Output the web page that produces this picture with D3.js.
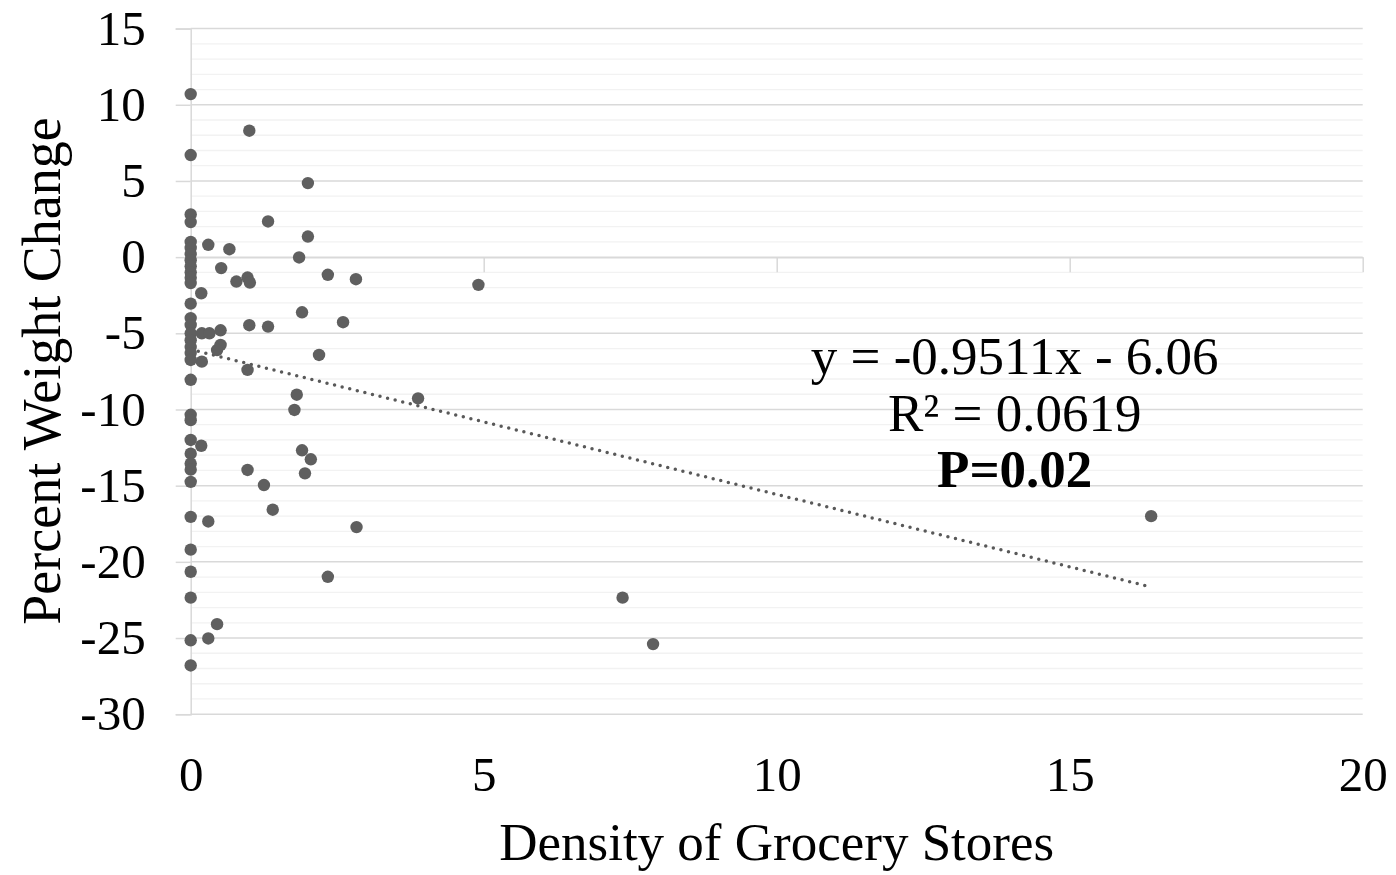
<!DOCTYPE html>
<html>
<head>
<meta charset="utf-8">
<script src="https://cdn.jsdelivr.net/npm/d3@7"></script>
<style>
  body { margin: 0; background: #fff; }
  text { font-family: "Liberation Serif", "Times New Roman", serif; fill: #000; }
</style>
</head>
<body>
<svg id="scatter" width="1396" height="875"></svg>
<script>
// density of grocery stores (x) and percent weight change (y)
var density = [
  0, 0, 0, 0, 0, 0, 0, 0, 0, 0, 0, 0,
  0, 0, 0, 0, 0, 0, 0, 0, 0, 0, 0, 0,
  0, 0, 0, 0, 0, 0, 0, 0, 0, 0,
  1.0, 2.0, 1.32, 2.0, 0.30, 0.66, 1.85, 0.52, 0.78, 0.97, 1.01, 2.34,
  2.82, 4.91, 0.18, 1.90, 2.60, 1.0, 1.32, 0.19, 0.32, 0.51, 0.51, 0.45,
  2.19, 0.19, 0.97, 3.88, 1.81, 1.77, 0.18, 1.90, 2.05, 1.95, 0.97, 1.25,
  1.40, 0.30, 2.83, 2.34, 0.45, 0.30, 7.37, 7.89, 16.39
];
var weightChange = [
  10.7, 6.7, 2.8, 2.3, 1.0, 0.6, 0.2, -0.2, -0.6, -1.0, -1.35, -1.7,
  -3.05, -4.0, -4.45, -5.0, -5.45, -5.9, -6.3, -6.75, -8.05, -10.35, -10.7, -12.0,
  -12.9, -13.55, -13.95, -14.75, -17.05, -19.2, -20.65, -22.35, -25.15, -26.8,
  8.3, 4.86, 2.34, 1.35, 0.81, 0.52, -0.02, -0.72, -1.6, -1.34, -1.67, -1.16,
  -1.45, -1.82, -2.37, -3.62, -4.27, -4.47, -4.56, -5.0, -5.0, -4.8, -5.76, -6.1,
  -6.42, -6.86, -7.40, -9.27, -9.03, -10.03, -12.38, -12.68, -13.27, -14.19, -13.97, -14.96,
  -16.58, -17.35, -17.72, -20.98, -24.09, -25.03, -22.35, -25.4, -17.0
];
var xTicks = [0, 5, 10, 15, 20];
var yTicks = [-30, -25, -20, -15, -10, -5, 0, 5, 10, 15];
var trendSlope = -0.9511, trendIntercept = -6.06;
var annotation = ["y = -0.9511x - 6.06", "R\u00b2 = 0.0619", "P=0.02"];

var svg = d3.select("#scatter"),
    margin = {top: 28.6, right: 33.3, bottom: 160.8, left: 190.7},
    width = +svg.attr("width") - margin.left - margin.right,
    height = +svg.attr("height") - margin.top - margin.bottom;

var x = d3.scaleLinear().domain([0, 20]).range([0, width]),
    y = d3.scaleLinear().domain([-30, 15]).range([height, 0]);

var plain = function(d) { return String(d); };

var g = svg.append("g")
    .attr("transform", "translate(" + margin.left + "," + margin.top + ")");

// minor gridlines every 1
g.append("g")
    .selectAll("line")
    .data(d3.range(-30, 16, 1).filter(function(d) { return d % 5 !== 0; }))
    .enter().append("line")
      .attr("x1", 0).attr("x2", width)
      .attr("y1", function(d) { return y(d); })
      .attr("y2", function(d) { return y(d); })
      .attr("stroke", "#f2f2f2")
      .attr("stroke-width", 1.3);

// major gridlines
g.append("g")
    .selectAll("line")
    .data(yTicks)
    .enter().append("line")
      .attr("x1", 0).attr("x2", width)
      .attr("y1", function(d) { return y(d); })
      .attr("y2", function(d) { return y(d); })
      .attr("stroke", "#d9d9d9")
      .attr("stroke-width", 1.5);

// y axis
var yAxis = g.append("g")
    .call(d3.axisLeft(y).tickValues(yTicks).tickSize(15).tickPadding(30).tickFormat(plain));
yAxis.select(".domain").attr("stroke", "#d9d9d9").attr("stroke-width", 1.5);
yAxis.selectAll(".tick line").attr("stroke", "#d9d9d9").attr("stroke-width", 1.5);
yAxis.selectAll(".tick text")
    .style("font-family", "'Liberation Serif', 'Times New Roman', serif")
    .style("font-size", "49px")
    .attr("fill", "#000");

// x axis crosses at y = 0
var xAxis = g.append("g")
    .attr("transform", "translate(0," + y(0) + ")")
    .call(d3.axisBottom(x).tickValues(xTicks).tickSize(15).tickSizeOuter(0).tickFormat(""));
xAxis.select(".domain").attr("stroke", "#d9d9d9").attr("stroke-width", 1.5);
xAxis.selectAll(".tick line").attr("stroke", "#d9d9d9").attr("stroke-width", 1.5);

// x tick labels at the bottom
var xLabels = g.append("g")
    .attr("transform", "translate(0," + height + ")")
    .call(d3.axisBottom(x).tickValues(xTicks).tickSize(0).tickPadding(42).tickFormat(plain));
xLabels.select(".domain").remove();
xLabels.selectAll(".tick text")
    .style("font-family", "'Liberation Serif', 'Times New Roman', serif")
    .style("font-size", "49px")
    .attr("fill", "#000");

// trend line
g.append("line")
    .attr("x1", x(0))
    .attr("y1", y(trendIntercept))
    .attr("x2", x(d3.max(density)))
    .attr("y2", y(trendSlope * d3.max(density) + trendIntercept))
    .attr("stroke", "#595959")
    .attr("stroke-width", 3.5)
    .attr("stroke-linecap", "round")
    .attr("stroke-dasharray", "0,7.8");

// points
g.selectAll(".dot")
    .data(density.map(function(d, i) { return {x: d, y: weightChange[i]}; }))
    .enter().append("circle")
      .attr("class", "dot")
      .attr("cx", function(d) { return x(d.x); })
      .attr("cy", function(d) { return y(d.y); })
      .attr("r", 6.2)
      .attr("fill", "#5f5f5f");

// regression annotation
g.append("g")
    .selectAll("text")
    .data(annotation)
    .enter().append("text")
      .attr("x", 824)
      .attr("y", function(d, i) { return 345.5 + i * 56.5; })
      .attr("text-anchor", "middle")
      .style("font-size", "53px")
      .style("font-weight", function(d, i) { return i === 2 ? "bold" : "normal"; })
      .text(function(d) { return d; });

// axis titles
svg.append("text")
    .attr("x", margin.left + width / 2)
    .attr("y", 860)
    .attr("text-anchor", "middle")
    .style("font-size", "53px")
    .text("Density of Grocery Stores");

svg.append("text")
    .attr("transform", "translate(60," + 371 + ") rotate(-90)")
    .attr("text-anchor", "middle")
    .style("font-size", "54px")
    .text("Percent Weight Change");
</script>
</body>
</html>
